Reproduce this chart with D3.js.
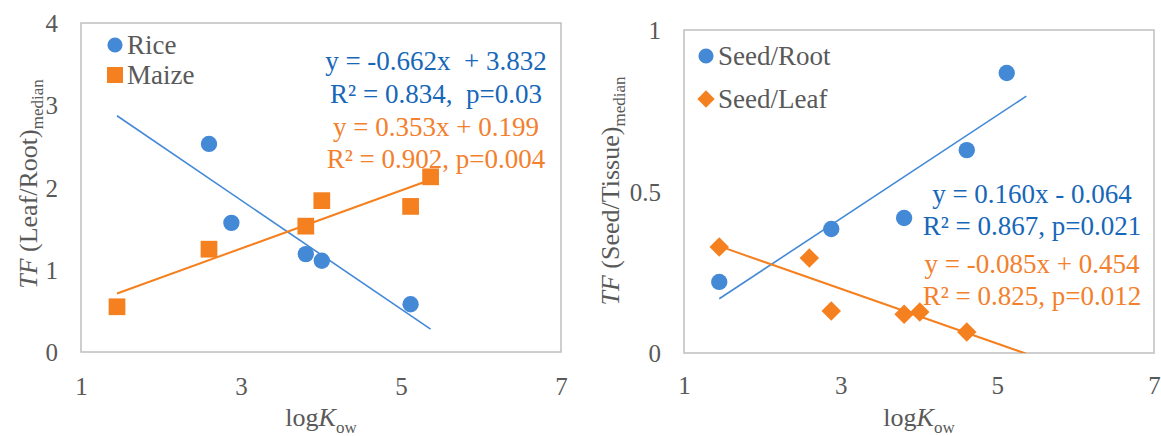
<!DOCTYPE html>
<html>
<head>
<meta charset="utf-8">
<script src="https://cdn.jsdelivr.net/npm/d3@7"></script>
<style>
  html, body { margin: 0; padding: 0; background: #fff; }
  svg { display: block; }
  svg text { font-family: "Liberation Serif", "Times New Roman", serif; }
</style>
</head>
<body>
<svg id="chart" width="1161" height="436"></svg>
<script>
// left panel: TF leaf/root
const riceX = [2.60, 2.88, 3.81, 4.01, 5.12];
const riceY = [2.53, 1.57, 1.19, 1.11, 0.58];
const maizeX = [1.45, 2.60, 3.81, 4.01, 5.12, 5.37];
const maizeY = [0.55, 1.25, 1.53, 1.84, 1.77, 2.13];

// right panel: TF seed/tissue
const seedRootX = [1.45, 2.88, 3.81, 4.61, 5.12];
const seedRootY = [0.22, 0.384, 0.418, 0.628, 0.867];
const seedLeafX = [1.45, 2.60, 2.88, 3.81, 4.01, 4.61];
const seedLeafY = [0.328, 0.294, 0.130, 0.120, 0.127, 0.065];

// linear fits (slope, intercept) and their x span
const riceFit = [-0.662, 3.832];
const maizeFit = [0.353, 0.199];
const seedRootFit = [0.160, -0.064];
const seedLeafFit = [-0.085, 0.454];
const trendSpan = [1.45, 5.37];

const xTicks = [1, 3, 5, 7];
const leftYTicks = [0, 1, 2, 3, 4];
const rightYTicks = [0, 0.5, 1];

const leftEq = ["y = -0.662x  + 3.832", "R² = 0.834,  p=0.03", "y = 0.353x + 0.199", "R² = 0.902, p=0.004"];
const rightEq = ["y = 0.160x - 0.064", "R² = 0.867, p=0.021", "y = -0.085x + 0.454", "R² = 0.825, p=0.012"];

const FONT = "'Liberation Serif', 'Times New Roman', serif";
const BLUE = "#4389d6";
const ORANGE = "#f5801f";
const BLUE_TXT = "#1767b8";
const ORANGE_TXT = "#f3802d";
const GRID = "#bfbfbf";
const TICK_TXT = "#595959";

const svg = d3.select("#chart");

function zipXY(xs, ys) {
  return xs.map((x, i) => ({ x, y: ys[i] }));
}

function drawPanel(cfg) {
  const x = d3.scaleLinear().domain([1, 7]).range([cfg.left, cfg.right]);
  const y = d3.scaleLinear().domain(cfg.yDomain).range([cfg.bottom, cfg.top]);
  const g = svg.append("g").style("font-family", FONT);

  const clipId = "clip-" + cfg.id;
  g.append("clipPath").attr("id", clipId)
    .append("rect")
    .attr("x", cfg.left).attr("y", cfg.top)
    .attr("width", cfg.right - cfg.left).attr("height", cfg.bottom - cfg.top);

  g.append("rect")
    .attr("x", cfg.left).attr("y", cfg.top)
    .attr("width", cfg.right - cfg.left).attr("height", cfg.bottom - cfg.top)
    .attr("fill", "none").attr("stroke", GRID).attr("stroke-width", 1.5);

  // tick labels
  const xAxis = d3.axisBottom(x).tickValues(xTicks).tickSize(0).tickPadding(0)
    .tickFormat(d3.format("~g"));
  const xg = g.append("g").attr("transform", `translate(0,${cfg.bottom})`).call(xAxis);
  xg.attr("font-family", null).attr("font-size", null);
  xg.select(".domain").remove();
  xg.selectAll("text")
    .attr("y", cfg.xTickY - cfg.bottom).attr("dy", 0)
    .style("font-family", FONT).style("font-size", "25px").attr("fill", TICK_TXT);

  const yAxis = d3.axisLeft(y).tickValues(cfg.yTicks).tickSize(0).tickPadding(0)
    .tickFormat(d3.format("~g"));
  const yg = g.append("g").attr("transform", `translate(${cfg.yTickX},0)`).call(yAxis);
  yg.attr("font-family", null).attr("font-size", null);
  yg.select(".domain").remove();
  yg.selectAll("text")
    .attr("x", 0).attr("dy", "0.34em")
    .style("font-family", FONT).style("font-size", "25px").attr("fill", TICK_TXT);

  // axis titles
  const xt = g.append("text")
    .attr("x", (cfg.left + cfg.right) / 2).attr("y", 426)
    .attr("text-anchor", "middle").style("font-size", "26px").attr("fill", TICK_TXT);
  xt.append("tspan").text("log");
  xt.append("tspan").attr("font-style", "italic").text("K");
  xt.append("tspan").style("font-size", "17px").attr("dy", 7).text("ow");

  const yt = g.append("text")
    .attr("transform", `translate(${cfg.yTitleX},${cfg.yTitleY}) rotate(-90)`)
    .attr("text-anchor", "middle").style("font-size", "26px").attr("fill", TICK_TXT);
  yt.append("tspan").attr("font-style", "italic").text("TF");
  yt.append("tspan").text(cfg.yTitle);
  yt.append("tspan").style("font-size", "17px").attr("dy", 6).text("median");

  // trend lines
  const line = d3.line().x((d) => x(d.x)).y((d) => y(d.y));
  cfg.series.forEach((s) => {
    const pts = trendSpan.map((v) => ({ x: v, y: s.fit[0] * v + s.fit[1] }));
    g.append("path")
      .attr("d", line(pts))
      .attr("clip-path", `url(#${clipId})`)
      .attr("fill", "none")
      .attr("stroke", s.color)
      .attr("stroke-width", s.lineWidth);
  });

  // markers
  cfg.series.forEach((s) => {
    const sym = d3.symbol().type(s.shape).size(s.size);
    g.append("g").selectAll("path")
      .data(zipXY(s.xs, s.ys))
      .join("path")
      .attr("transform", (d) => `translate(${x(d.x)},${y(d.y)})` + (s.diamond ? " rotate(45)" : ""))
      .attr("d", sym)
      .attr("fill", s.color);
  });

  // legend
  cfg.series.forEach((s, i) => {
    const ly = cfg.legendY + i * cfg.legendStep;
    g.append("path")
      .attr("transform", `translate(${cfg.legendX},${ly})` + (s.diamond ? " rotate(45)" : ""))
      .attr("d", d3.symbol().type(s.shape).size(s.legendSize)())
      .attr("fill", s.color);
    g.append("text")
      .attr("x", cfg.legendX + 12).attr("y", ly + 9)
      .style("font-size", "27px").attr("fill", TICK_TXT)
      .text(s.name);
  });

  // equations
  cfg.eq.forEach((t, i) => {
    g.append("text")
      .attr("x", cfg.eqX).attr("y", cfg.eqY[i])
      .attr("text-anchor", "middle")
      .style("font-size", "27px")
      .style("white-space", "pre")
      .attr("fill", i < 2 ? BLUE_TXT : ORANGE_TXT)
      .text(t);
  });
}

drawPanel({
  id: "left",
  left: 81, right: 561, top: 23, bottom: 352,
  yDomain: [0, 4], yTicks: leftYTicks,
  xTickY: 395, yTickX: 58,
  yTitle: " (Leaf/Root)", yTitleX: 37, yTitleY: 184,
  legendX: 115, legendY: 45, legendStep: 30,
  eqX: 436, eqY: [70, 103, 136, 168],
  eq: leftEq,
  series: [
    { name: "Rice", xs: riceX, ys: riceY, fit: riceFit, color: BLUE, shape: d3.symbolCircle, size: 210, legendSize: 180, lineWidth: 1.6 },
    { name: "Maize", xs: maizeX, ys: maizeY, fit: maizeFit, color: ORANGE, shape: d3.symbolSquare, size: 280, legendSize: 256, lineWidth: 2 },
  ],
});

drawPanel({
  id: "right",
  left: 684, right: 1154, top: 30, bottom: 353,
  yDomain: [0, 1], yTicks: rightYTicks,
  xTickY: 394, yTickX: 661,
  yTitle: " (Seed/Tissue)", yTitleX: 619, yTitleY: 191,
  legendX: 706, legendY: 56, legendStep: 43,
  eqX: 1032, eqY: [203, 235, 273, 305],
  eq: rightEq,
  series: [
    { name: "Seed/Root", xs: seedRootX, ys: seedRootY, fit: seedRootFit, color: BLUE, shape: d3.symbolCircle, size: 210, legendSize: 180, lineWidth: 1.6 },
    { name: "Seed/Leaf", xs: seedLeafX, ys: seedLeafY, fit: seedLeafFit, color: ORANGE, shape: d3.symbolSquare, diamond: true, size: 190, legendSize: 150, lineWidth: 2 },
  ],
});
</script>
</body>
</html>
